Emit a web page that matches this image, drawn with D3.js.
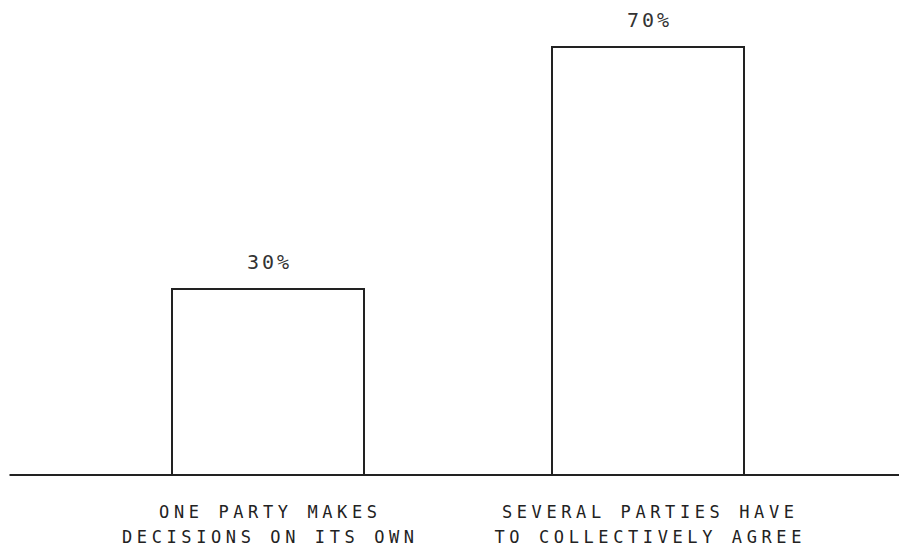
<!DOCTYPE html>
<html>
<head>
<meta charset="utf-8">
<script src="https://cdn.jsdelivr.net/npm/d3@7/dist/d3.min.js"></script>
<style>
  html, body { margin: 0; padding: 0; background: #fff; }
  svg { display: block; }
</style>
</head>
<body>
<svg id="chart" width="899" height="548"></svg>
<script>
const categories = ["one", "several"];
const categoryLines = [
  ["ONE PARTY MAKES", "DECISIONS ON ITS OWN"],
  ["SEVERAL PARTIES HAVE", "TO COLLECTIVELY AGREE"]
];
const values = [30, 70];
const valueLabels = ["30%", "70%"];

const W = 899, H = 548;
const baseY = 475;
const svg = d3.select("#chart");

const x = d3.scaleBand()
  .domain(categories)
  .range([16, 900])
  .paddingInner(0.495)
  .paddingOuter(0.411);

const y = d3.scaleLinear()
  .domain([0, 70])
  .range([470.5, 47]);

const ink = "#222";
const fontFam = "'DejaVu Sans Mono', 'Liberation Mono', monospace";

// bars
svg.selectAll("rect.bar")
  .data(categories)
  .join("rect")
  .attr("class", "bar")
  .attr("x", d => Math.round(x(d)))
  .attr("y", (d, i) => Math.round(y(values[i])))
  .attr("width", Math.round(x.bandwidth()))
  .attr("height", (d, i) => baseY - Math.round(y(values[i])))
  .attr("fill", "none")
  .attr("stroke", ink)
  .attr("stroke-width", 2);

// baseline
svg.append("line")
  .attr("x1", 9.5).attr("x2", W)
  .attr("y1", baseY).attr("y2", baseY)
  .attr("stroke", ink)
  .attr("stroke-width", 2);

// value labels
svg.selectAll("text.val")
  .data(categories)
  .join("text")
  .attr("class", "val")
  .attr("x", d => x(d) + x.bandwidth() / 2 + 1.5)
  .attr("y", (d, i) => Math.round(y(values[i])) - 20)
  .attr("text-anchor", "middle")
  .attr("font-family", fontFam)
  .attr("font-size", 20)
  .attr("letter-spacing", "3px")
  .attr("fill", "#333")
  .text((d, i) => valueLabels[i]);

// category labels
const cat = svg.selectAll("g.cat")
  .data(categories)
  .join("g")
  .attr("class", "cat");

cat.each(function(d, i) {
  const g = d3.select(this);
  categoryLines[i].forEach((line, j) => {
    g.append("text")
      .attr("x", x(d) + x.bandwidth() / 2 + 2.3)
      .attr("y", 518 + j * 25)
      .attr("text-anchor", "middle")
      .attr("font-family", fontFam)
      .attr("font-size", 17)
      .attr("letter-spacing", "4.6px")
      .attr("fill", "#222")
      .text(line);
  });
});
</script>
</body>
</html>
